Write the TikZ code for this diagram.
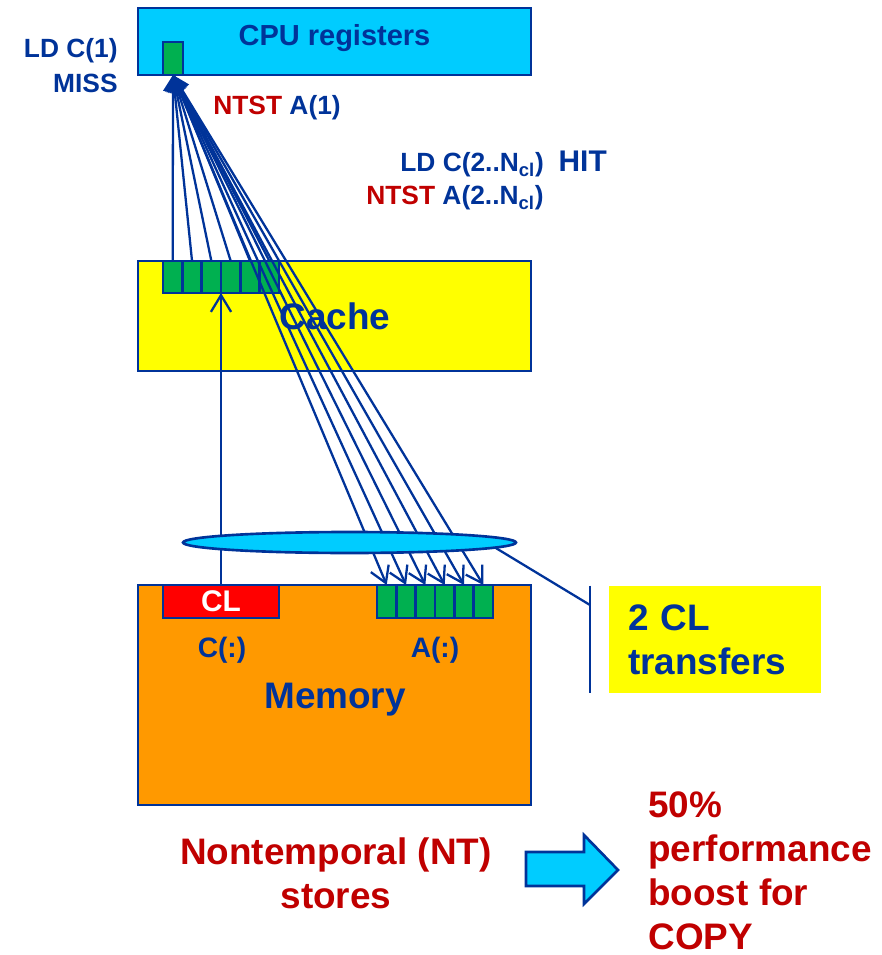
\documentclass[tikz,border=0pt]{standalone}
\usepackage{fontspec}
\setmainfont{Liberation Sans}
\usepackage{tikz}
\usetikzlibrary{arrows.meta, shapes.geometric, positioning, calc}
\definecolor{ntblue}{RGB}{0, 51, 153}
\definecolor{ntred}{RGB}{192, 0, 0}
\definecolor{regcyan}{RGB}{0, 204, 255}
\definecolor{cacheyellow}{RGB}{255, 255, 0}
\definecolor{memorange}{RGB}{255, 153, 0}
\definecolor{linegreen}{RGB}{0, 176, 80}
\definecolor{clred}{RGB}{255, 0, 0}

\begin{document}
\begin{tikzpicture}[x=0.02cm, y=-0.02cm,
    unit/.style={draw=ntblue, line width=1.5pt, inner sep=0pt, outer sep=0pt},
    cell/.style={unit, fill=linegreen, minimum width=0.3867cm},
    lbl/.style={text=ntblue, inner sep=0pt},
    sm/.style={font=\bfseries\fontsize{15}{20}\selectfont},
    big/.style={font=\bfseries\fontsize{21}{25}\selectfont},
    ldarrow/.style={ntblue, line width=1.3pt, -{Triangle[length=9pt, width=11pt]}},
    ntarrow/.style={ntblue, line width=1.3pt, -{Straight Barb[length=9pt, width=11pt]}},
    fillarrow/.style={ntblue, line width=1.3pt, -{Straight Barb[length=9.5pt, width=11.5pt]}}]
        \useasboundingbox (0,0) rectangle (881,955);

        % the three levels
        \node[unit, fill=regcyan, minimum width=7.86cm, minimum height=1.34cm] (cpu) at (334.5,41.5) {};
        \node[unit, fill=cacheyellow, minimum width=7.86cm, minimum height=2.2cm] (cache) at (334.5,316) {};
        \node[unit, fill=memorange, minimum width=7.86cm, minimum height=4.4cm] (mem) at (334.5,695) {};

        % register, cache line and memory lines
        \node[cell, minimum width=0.4cm, minimum height=0.66cm] (reg) at (173,58.5) {};
        \foreach \i in {0,...,5}
          \node[cell, minimum height=0.64cm] (c\i) at (172.7+19.33*\i,277) {};
        \foreach \i in {0,...,5}
          \node[cell, minimum height=0.66cm] (a\i) at (386.7+19.33*\i,601.5) {};
        \node[unit, fill=clred, minimum width=2.32cm, minimum height=0.66cm, text=white,
          font=\bfseries\fontsize{17}{20}\selectfont] (cl) at (221,601.5) {CL};

        % labels
        \node[lbl, font=\bfseries\fontsize{16.5}{20}\selectfont, anchor=base] (cpulbl) at (334.5,46) {CPU registers};
        \node[lbl, big, anchor=base] (cachelbl) at (335,330) {Cache};
        \node[lbl, big, anchor=base] (memlbl) at (335,708) {Memory};
        \node[lbl, font=\bfseries\fontsize{16}{20}\selectfont, anchor=base] (clbl) at (222,657) {C(:)};
        \node[lbl, font=\bfseries\fontsize{16}{20}\selectfont, anchor=base] (albl) at (435,657) {A(:)};
        \node[lbl, sm, align=right, anchor=base east] (ld1) at (118,93) {LD C(1)\\MISS};
        \node[lbl, sm, anchor=base west] (nt1) at (213,115) {\textcolor{ntred}{NTST} A(1)};
        \node[lbl, sm, anchor=base west] (ld2) at (400,172)
          {LD C(2..N\textsubscript{cl})\ \ {\fontsize{17}{20}\selectfont HIT}};
        \node[lbl, sm, anchor=base west] (nt2) at (366,205) {\textcolor{ntred}{NTST} A(2..N\textsubscript{cl})};

        % loads up to the register, stores down to memory
        \foreach \i in {0,...,5}
          \draw[ldarrow] (c\i.north) -- (reg.south);
        \foreach \i in {0,...,5}
          \draw[ntarrow] (reg.south) -- (a\i.north);
        \draw[fillarrow] (cl.north) -- (cl.north |- c0.south);

        % the two transfers
        \node[unit, ellipse, fill=regcyan, minimum width=6.66cm, minimum height=0.42cm] (xfer) at (349.5,542.5) {};
        \node[lbl, big, fill=cacheyellow, align=left, text width=3.48cm, inner xsep=0.38cm,
          minimum height=2.14cm] (xbox) at (715,639.5) {2 CL\\transfers};
        \coordinate (brk) at (590,605);
        \draw[ntblue, line width=1.3pt] (xfer.-2) -- (brk);
        \draw[ntblue, line width=1.5pt] (brk |- xbox.north) -- (brk |- xbox.south);

        % conclusion
        \node[lbl, big, text=ntred, align=center, anchor=base] (ntst) at (336,908) {Nontemporal (NT)\\stores};
        \draw[ntblue, fill=regcyan, line width=1.5pt]
          (526,852) -- (584,852) -- (584,835) -- (618,870) -- (584,904) -- (584,886) -- (526,886) -- cycle;
        \node[lbl, big, text=ntred, align=left, anchor=base west] (boost) at (648,949)
          {50\%\\performance\\boost for\\COPY};
      \end{tikzpicture}
\end{document}
